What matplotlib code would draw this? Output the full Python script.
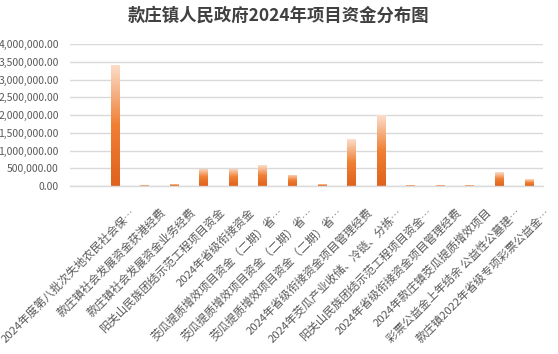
import numpy as np
import matplotlib
matplotlib.use("Agg")
import matplotlib.pyplot as plt
import matplotlib.transforms as mtransforms
from matplotlib.colors import LinearSegmentedColormap
from matplotlib.ticker import FuncFormatter, MultipleLocator

plt.rcParams['font.family'] = ['Noto Sans CJK SC', 'DejaVu Sans']

# 项目名称与金额
projects = [
    "2024年度第八批次失地农民社会保…",
    "款庄镇社会发展资金获港经费",
    "款庄镇社会发展资金业务经费",
    "阳关山民族团结示范工程项目资金",
    "2024年省级衔接资金",
    "茭瓜提质增效项目资金（二期）省…",
    "茭瓜提质增效项目资金（二期）省…",
    "茭瓜提质增效项目资金（二期）省…",
    "2024年省级衔接资金项目管理经费",
    "2024年茭瓜产业收储、冷链、分拣…",
    "阳关山民族团结示范工程项目资金…",
    "2024年省级衔接资金项目管理经费",
    "2024年款庄镇茭瓜提质增效项目",
    "彩票公益金上年结余 公益性公墓建…",
    "款庄镇2022年省级专项彩票公益金…",
]
amounts = [3410000, 28000, 56000, 490000, 490000, 590000, 310000, 56000,
           1320000, 2000000, 28000, 28000, 28000, 394000, 197000]

title = "款庄镇人民政府2024年项目资金分布图"
grey = "#595959"
grid_c = "#D9D9D9"

cmap = LinearSegmentedColormap.from_list(
    "bar_grad", [(0.0, "#DF621B"), (0.5, "#F07F34"), (1.0, "#FBDECB")])

fig = plt.figure(figsize=(5.58, 3.54), dpi=100)
ax = fig.add_axes([70 / 558, 168 / 354, 473 / 558, 142 / 354])

x = np.arange(len(projects))
bars = ax.bar(x, amounts, width=0.3, facecolor="none", edgecolor="none", zorder=3)

# 每根柱子内做竖向渐变
grad = np.linspace(0, 1, 256).reshape(-1, 1)
for b in bars:
    x0, y0 = b.get_x(), b.get_y()
    w, h = b.get_width(), b.get_height()
    im = ax.imshow(grad, cmap=cmap, origin="lower", aspect="auto",
                   extent=(x0, x0 + w, y0, y0 + h), zorder=3)
    im.set_clip_path(b)

ax.set_xlim(-1.52, 14.47)
ax.set_ylim(0, 4000000)
ax.yaxis.set_major_locator(MultipleLocator(500000))
ax.yaxis.set_major_formatter(FuncFormatter(lambda v, p: f"{v:,.2f}"))
ax.grid(axis="y", color=grid_c, linewidth=1, zorder=0)
ax.set_axisbelow(True)

for s in ["top", "right", "left"]:
    ax.spines[s].set_visible(False)
ax.spines["bottom"].set_color(grid_c)
ax.spines["bottom"].set_linewidth(1)
ax.spines["bottom"].set_zorder(4)

ax.tick_params(axis="both", length=0, colors=grey, labelsize=7.5)
ax.tick_params(axis="y", pad=8)
ax.tick_params(axis="x", pad=0)
ax.set_xticks(x)
ax.set_xticklabels(projects, rotation=45, ha="right", va="center",
                   rotation_mode="anchor", fontsize=8.2, color=grey)
# 标签整体右移、下移，贴近原图位置
offset = mtransforms.ScaledTranslation(19 / 100, -24 / 100, fig.dpi_scale_trans)
for lbl in ax.get_xticklabels():
    lbl.set_transform(lbl.get_transform() + offset)

fig.text(0.5, 0.955, title, ha="center", va="center", fontsize=12.5,
         fontweight="bold", color="#404040")

fig.savefig("out.png", dpi=100)
